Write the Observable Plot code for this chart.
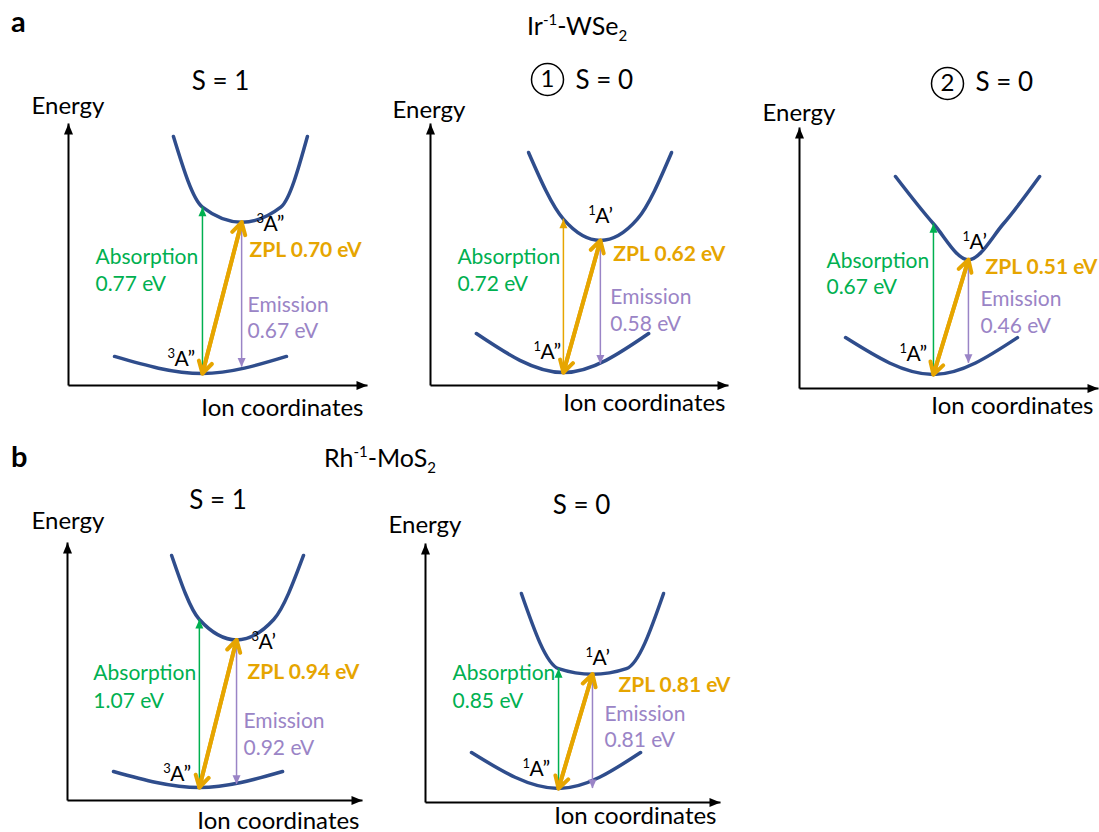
<!DOCTYPE html>
<html>
<head>
<meta charset="utf-8">
<script src="https://cdn.jsdelivr.net/npm/d3@7"></script>
<script src="https://cdn.jsdelivr.net/npm/@observablehq/plot@0.6"></script>
<style>
  body { margin: 0; background: #fff; }
  #fig { position: relative; width: 1099px; height: 832px; overflow: hidden; font-family: Lato, "Open Sans", sans-serif; }
  .panel { position: absolute; }
  #heads { position: absolute; left: 0; top: 0; }
</style>
</head>
<body>
<div id="fig">
  <svg id="heads" width="1099" height="832" font-family="Lato, 'Open Sans', sans-serif">
    <text x="11" y="32" font-size="29" font-weight="700">a</text>
    <text x="527" y="35" font-size="25">Ir<tspan dy="-10" font-size="15">-1</tspan><tspan dy="10">-WSe</tspan><tspan dy="6" font-size="15">2</tspan></text>
    <text x="11" y="467" font-size="29" font-weight="700">b</text>
    <text x="324" y="467" font-size="25">Rh<tspan dy="-10" font-size="15">-1</tspan><tspan dy="10">-MoS</tspan><tspan dy="6" font-size="15">2</tspan></text>
  </svg>
</div>
<script>
// ---- Configuration-coordinate diagrams: Ir-1-WSe2 (three states) and Rh-1-MoS2 (two states)
const spinTitles   = ["S = 1", "S = 0", "S = 0", "S = 1", "S = 0"];
const titleMarks   = [null, "1", "2", null, null];
const absorptionEV = [0.77, 0.72, 0.67, 1.07, 0.85];
const zplEV        = [0.70, 0.62, 0.51, 0.94, 0.81];
const emissionEV   = [0.67, 0.58, 0.46, 0.92, 0.81];
// State term symbols: multiplicity and symmetry
const groundMult   = ["3", "1", "1", "3", "1"];
const groundSym    = ["A”", "A”", "A”", "A”", "A”"];
const excitedMult  = ["3", "1", "1", "3", "1"];
const excitedSym   = ["A”", "A’", "A’", "A’", "A’"];

// Ion coordinate of each minimum (fraction of the axis length)
const groundMinQ  = [0.448, 0.446, 0.448, 0.447, 0.451];
const excitedMinQ = [0.579, 0.570, 0.565, 0.573, 0.566];
// Drawn extent of each potential curve along the ion coordinate
const groundSpanQ  = [[0.154, 0.729], [0.154, 0.732], [0.154, 0.729], [0.156, 0.729], [0.156, 0.729]];
const excitedSpanQ = [[0.351, 0.799], [0.329, 0.809], [0.321, 0.803], [0.353, 0.800], [0.325, 0.807]];
// Energy (eV) reached at the drawn ends of each curve
const groundRimEV  = [0.079, 0.183, 0.164, 0.102, 0.255];
const excitedRimEV = [1.097, 1.033, 0.880, 1.478, 1.383];

// ---- Colours
const curveColor = "#2F4D8C";
const green = "#00B050";
const orange = "#E6A500";
const purple = "#9A84C6";

// ---- Panel placement on the page and label offsets (pixels)
const layout = [
  { box: [0, 55, 395, 425], origin: [68, 385], tip: [367, 123], groundY: 373, pxPerEV: 216,
    title: [220, 89, "middle"], circle: null, energy: [-37, -10], ion: [-4, 30],
    absLabel: [-107, -110, -83], zplLabel: [8, 35], emLabel: [6, 90, 116], exLabel: [15, 9], grLabel: [-35, -8],
    absColor: green },
  { box: [380, 55, 740, 425], origin: [430, 385], tip: [728, 123], groundY: 372, pxPerEV: 213,
    title: [575, 88, "start"], circle: [547, 79], energy: [-38, -6], ion: [-3, 25],
    absLabel: [-106, -109, -82], zplLabel: [13, 21], emLabel: [10, 64, 91], exLabel: [-12, -17], grLabel: [-30, -14],
    absColor: orange },
  { box: [745, 55, 1099, 425], origin: [799, 388], tip: [1098, 127], groundY: 374, pxPerEV: 225,
    title: [975, 90, "start"], circle: [947, 83], energy: [-37, -7], ion: [-5, 25],
    absLabel: [-107, -107, -81], zplLabel: [17, 14], emLabel: [12, 46, 73], exLabel: [-6, -11], grLabel: [-34, -14],
    absColor: green },
  { box: [0, 480, 380, 832], origin: [67, 800], tip: [362, 542], groundY: 787, pxPerEV: 157,
    title: [217.5, 508, "middle"], circle: null, energy: [-36, -14], ion: [-3, 28],
    absLabel: [-106, -108, -80], zplLabel: [11, 39], emLabel: [7, 88, 115], exLabel: [15, 9], grLabel: [-36, -7],
    absColor: green },
  { box: [380, 480, 740, 832], origin: [425, 802], tip: [720, 543], groundY: 788, pxPerEV: 141,
    title: [581, 513, "middle"], circle: null, energy: [-37, -11], ion: [-4, 21],
    absLabel: [-106, -109, -81], zplLabel: [26, 18], emLabel: [12, 47, 73], exLabel: [-7, -9], grLabel: [-36, -13],
    absColor: green }
];

const labelSize = 21;
const fmt = v => `${v.toFixed(2)} eV`;

// Single-line label anchored on a data point; dy gives the baseline offset
function label(q, E, text, dx, dy, opts = {}) {
  return Plot.text([{q, E, text}], {
    x: "q", y: "E", text: "text", dx, dy,
    textAnchor: "start", lineAnchor: "bottom",
    fontSize: labelSize, ...opts
  });
}

// Term symbol: raised multiplicity followed by the symmetry label
function term(q, E, mult, sym, dx, dy) {
  return [
    label(q, E, mult, dx, dy - 8, {fontSize: 13, fill: "#000"}),
    label(q, E, sym, dx + 7, dy, {fill: "#000"})
  ];
}

// Filled arrowhead whose tip sits on (q, E)
function head(q, E, rot, color, length = 9, r = 4) {
  return Plot.vector([{q, E}], {
    x: "q", y: "E", rotate: rot, shape: "spike", anchor: "end",
    length, r, fill: color, stroke: "none"
  });
}

const fig = document.getElementById("fig");

layout.forEach((L, i) => {
  const [bl, bt, br, bb] = L.box;
  const [ox, oy] = L.origin;
  const [tx, ty] = L.tip;
  const s = L.pxPerEV;
  const lo = -(oy - L.groundY) / s;
  const hi = (L.groundY - ty) / s;

  const q0 = groundMinQ[i], q1 = excitedMinQ[i];
  const abs = absorptionEV[i], zpl = zplEV[i], em = emissionEV[i];

  const ground = [
    {q: groundSpanQ[i][0], E: groundRimEV[i]},
    {q: q0, E: 0},
    {q: groundSpanQ[i][1], E: groundRimEV[i]}
  ];
  const excited = [
    {q: excitedSpanQ[i][0], E: excitedRimEV[i]},
    {q: q0, E: abs},
    {q: q1, E: zpl},
    {q: 2 * q1 - q0, E: abs},
    {q: excitedSpanQ[i][1], E: excitedRimEV[i]}
  ];

  const axes = [
    {x1: 0, y1: lo, x2: 0, y2: hi},
    {x1: 0, y1: lo, x2: 1, y2: lo}
  ];

  const marks = [
    // axes with arrowheads
    Plot.link(axes, {x1: "x1", y1: "y1", x2: "x2", y2: "y2", stroke: "#000", strokeWidth: 2}),
    head(0, hi, 0, "#000", 11, 4.5),
    head(1, lo, 90, "#000", 11, 4.5),
    // potential energy curves
    Plot.line(ground, {x: "q", y: "E", curve: "monotone-x", stroke: curveColor, strokeWidth: 3.5}),
    Plot.line(excited, {x: "q", y: "E", curve: "monotone-x", stroke: curveColor, strokeWidth: 3.5}),
    // absorption (vertical, from the ground minimum)
    Plot.ruleX([{q: q0, a: 0, b: abs}], {x: "q", y1: "a", y2: "b", stroke: L.absColor, strokeWidth: 1.5}),
    head(q0, abs, 0, L.absColor),
    // emission (vertical, from the excited minimum)
    Plot.ruleX([{q: q1, a: zpl, b: zpl - em}], {x: "q", y1: "a", y2: "b", stroke: purple, strokeWidth: 1.5}),
    head(q1, zpl - em, 180, purple),
    // zero-phonon line, double headed
    Plot.arrow([{a: q0, b: 0, c: q1, d: zpl}], {x1: "a", y1: "b", x2: "c", y2: "d", stroke: orange, strokeWidth: 4, headLength: 5}),
    Plot.arrow([{a: q1, b: zpl, c: q0, d: 0}], {x1: "a", y1: "b", x2: "c", y2: "d", stroke: orange, strokeWidth: 4, headLength: 5}),
    // transition labels
    label(q0, 0, "Absorption", L.absLabel[0], L.absLabel[1], {fill: green}),
    label(q0, 0, fmt(abs), L.absLabel[0], L.absLabel[2], {fill: green}),
    label(q1, zpl, `ZPL ${fmt(zpl)}`, L.zplLabel[0], L.zplLabel[1], {fill: orange, fontWeight: "bold"}),
    label(q1, zpl, "Emission", L.emLabel[0], L.emLabel[1], {fill: purple}),
    label(q1, zpl, fmt(em), L.emLabel[0], L.emLabel[2], {fill: purple}),
    // state labels
    ...term(q1, zpl, excitedMult[i], excitedSym[i], L.exLabel[0], L.exLabel[1]),
    ...term(q0, 0, groundMult[i], groundSym[i], L.grLabel[0], L.grLabel[1]),
    // axis titles
    Plot.text(["Energy"], {frameAnchor: "top-left", text: d => d, dx: L.energy[0], dy: L.energy[1],
      textAnchor: "start", lineAnchor: "bottom", fontSize: 24, fill: "#000"}),
    Plot.text(["Ion coordinates"], {frameAnchor: "bottom-right", text: d => d, dx: L.ion[0], dy: L.ion[1],
      textAnchor: "end", lineAnchor: "bottom", fontSize: 24, fill: "#000"}),
    // spin state title
    Plot.text([spinTitles[i]], {frameAnchor: "top-left", text: d => d, dx: L.title[0] - ox, dy: L.title[1] - ty,
      textAnchor: L.title[2], lineAnchor: "bottom", fontSize: 26, fill: "#000"})
  ];

  if (titleMarks[i]) {
    const [cx, cy] = L.circle;
    marks.push(
      Plot.dot([0], {frameAnchor: "top-left", dx: cx - ox, dy: cy - ty, r: 16, fill: "none", stroke: "#000", strokeWidth: 1.5}),
      Plot.text([titleMarks[i]], {frameAnchor: "top-left", text: d => d, dx: cx - ox, dy: cy - ty,
        textAnchor: "middle", lineAnchor: "middle", fontSize: 24, fill: "#000"})
    );
  }

  const chart = Plot.plot({
    width: br - bl,
    height: bb - bt,
    marginLeft: ox - bl,
    marginRight: br - tx,
    marginTop: ty - bt,
    marginBottom: bb - oy,
    x: {domain: [0, 1], axis: null},
    y: {domain: [lo, hi], axis: null},
    style: {background: "none", overflow: "visible", fontFamily: "Lato, 'Open Sans', sans-serif"},
    marks
  });

  const holder = document.createElement("div");
  holder.className = "panel";
  holder.style.left = bl + "px";
  holder.style.top = bt + "px";
  holder.style.width = (br - bl) + "px";
  holder.appendChild(chart);
  fig.appendChild(holder);
});
</script>
</body>
</html>
